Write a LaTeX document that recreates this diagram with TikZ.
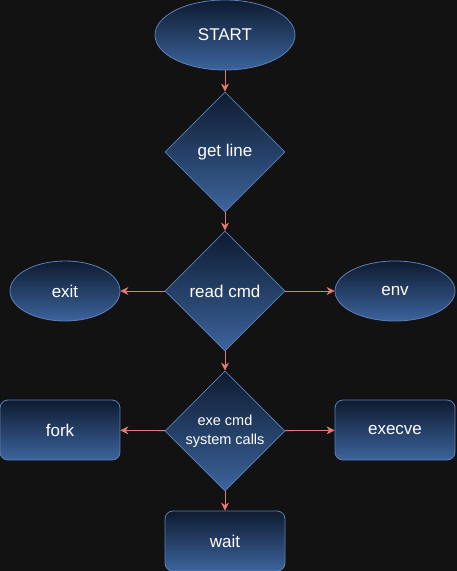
\documentclass[tikz,border=0pt]{standalone}
\usepackage{fontspec}
\setmainfont{Liberation Sans}
\usetikzlibrary{arrows.meta,shapes.geometric}
\definecolor{bgdark}{HTML}{121212}
\definecolor{edgeblue}{HTML}{5B80B6}
\definecolor{filltop}{HTML}{0E1B31}
\definecolor{fillbot}{HTML}{3C649C}
\definecolor{arrowred}{HTML}{E27B78}

\begin{document}
\begin{tikzpicture}[x=1pt, y=-1pt, >={Stealth[length=8pt,width=8pt]},
	blk/.style={draw=edgeblue, line width=0.8pt, top color=filltop, bottom color=fillbot,
		text=white, font=\fontsize{17}{19}\selectfont, inner sep=0pt},
	oval/.style={blk, ellipse, minimum width=140pt, minimum height=70pt},
	smalloval/.style={blk, ellipse, minimum width=110pt, minimum height=60pt},
	decide/.style={blk, diamond, aspect=1, minimum width=120pt, minimum height=120pt},
	task/.style={blk, rectangle, rounded corners=8pt, minimum width=120pt, minimum height=60pt},
	link/.style={->, arrowred, line width=0.8pt}]
	\fill[bgdark] (0,0) rectangle (457,571);
	\useasboundingbox (0,0) rectangle (457,571);
	% main column
	\node[oval] (start) at (225,35) {START};
	\node[decide] (getline) at (225,152) {get line};
	\node[decide] (readcmd) at (225,291) {read cmd};
	\node[decide, align=center, font=\fontsize{14.5}{19}\selectfont] (execmd) at (225,431) {exe cmd\\system calls};
	\node[task] (wait) at (225,541) {wait};
	% side nodes
	\node[smalloval] (exitn) at (65,291) {exit};
	\node[smalloval, minimum width=120pt] (env) at (395,291) {env};
	\node[task] (fork) at (60,430) {fork};
	\node[task] (execve) at (395,430) {execve};
	% connectors
	\draw[link] (start) -- (getline);
	\draw[link] (getline) -- (readcmd);
	\draw[link] (readcmd) -- (exitn);
	\draw[link] (readcmd) -- (env);
	\draw[link] (readcmd) -- (execmd);
	\draw[link] (execmd) -- (fork);
	\draw[link] (execmd) -- (execve);
	\draw[link] (execmd) -- (wait);
\end{tikzpicture}
\end{document}
